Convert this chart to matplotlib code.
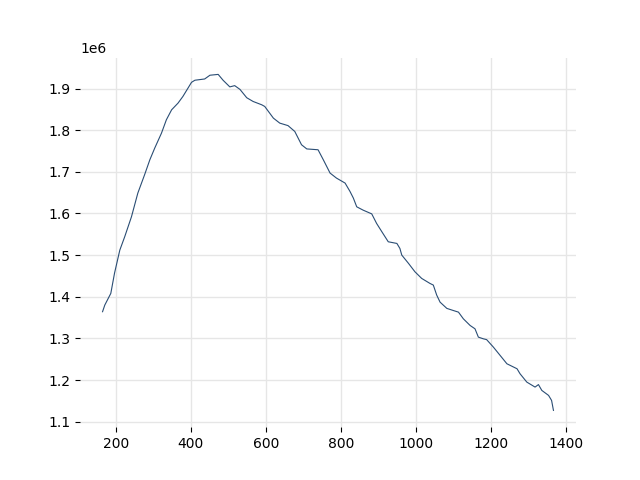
import matplotlib
matplotlib.use("Agg")
import matplotlib.pyplot as plt

# values
x = [165, 171, 187, 197, 211, 224, 242, 259, 277, 291, 304, 322, 335, 349,
     366, 379, 402, 411, 437, 451, 473, 486, 504, 517, 531, 549, 566, 589,
     597, 620, 637, 659, 677, 695, 709, 739, 753, 771, 788, 811, 824, 833,
     842, 859, 882, 895, 909, 926, 949, 957, 962, 980, 997, 1015, 1037, 1046,
     1055, 1064, 1082, 1099, 1113, 1126, 1144, 1157, 1166, 1179, 1188, 1206,
     1224, 1242, 1269, 1277, 1295, 1317, 1326, 1335, 1353, 1361, 1366]
y = [1.364, 1.380, 1.408, 1.457, 1.512, 1.544, 1.592, 1.649, 1.693, 1.729,
     1.757, 1.793, 1.825, 1.849, 1.865, 1.881, 1.915, 1.920, 1.923, 1.932,
     1.934, 1.920, 1.904, 1.907, 1.898, 1.878, 1.869, 1.861, 1.857, 1.829,
     1.817, 1.811, 1.797, 1.765, 1.755, 1.753, 1.729, 1.697, 1.685, 1.673,
     1.653, 1.637, 1.616, 1.608, 1.599, 1.576, 1.556, 1.532, 1.528, 1.516,
     1.500, 1.480, 1.460, 1.444, 1.432, 1.428, 1.404, 1.387, 1.372, 1.367,
     1.363, 1.347, 1.331, 1.323, 1.303, 1.299, 1.297, 1.279, 1.259, 1.239,
     1.227, 1.215, 1.195, 1.183, 1.189, 1.175, 1.163, 1.151, 1.127]
y = [v * 1e6 for v in y]

fig, ax = plt.subplots(figsize=(6.4, 4.8), dpi=100)
ax.plot(x, y, color='#2a4d74', lw=0.8)
ax.grid(True, color='#e6e6e6', lw=1)
ax.set_axisbelow(True)
for s in ax.spines.values():
    s.set_visible(False)

fig.savefig("out.png")
